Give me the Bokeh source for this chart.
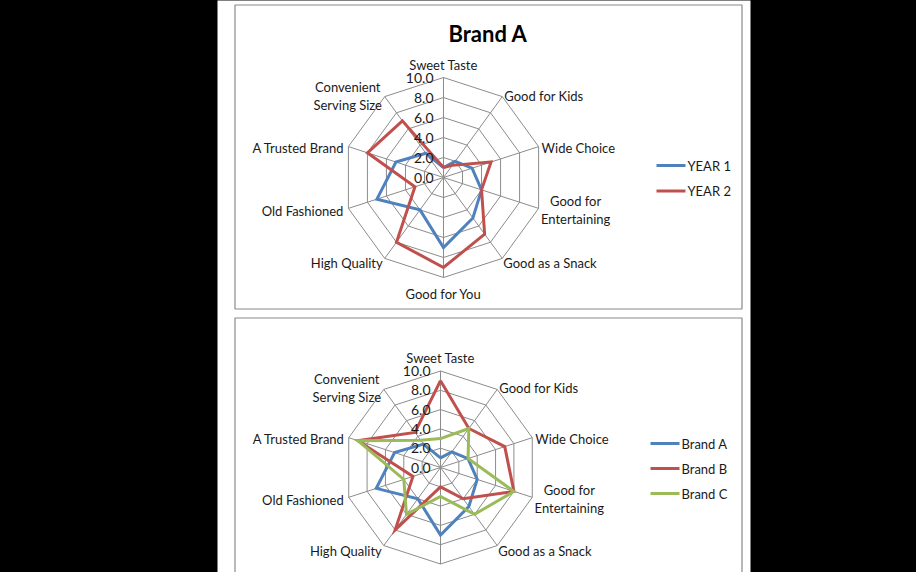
import numpy as np
from bokeh.plotting import figure
from bokeh.models import Range1d, ColumnDataSource
from bokeh.core.properties import value, field
from bokeh.embed import file_html
from bokeh.resources import INLINE

# ---------------- data ----------------
categories = ["Sweet Taste", "Good for  Kids", "Wide Choice", "Good for\nEntertaining",
              "Good as a Snack", "Good for You", "High Quality", "Old Fashioned",
              "A Trusted Brand", "Convenient\nServing Size"]
tick_values = [0, 2, 4, 6, 8, 10]
tick_labels = ["0.0", "2.0", "4.0", "6.0", "8.0", "10.0"]

top_title = "Brand A"
top_names = ["YEAR 1", "YEAR 2"]
year1 = [1.0, 2.0, 3.0, 4.0, 5.0, 7.0, 4.0, 7.0, 5.0, 3.0]
year2 = [1.0, 1.5, 5.0, 4.0, 7.0, 9.0, 8.0, 3.0, 8.0, 7.0]

bottom_names = ["Brand A", "Brand B", "Brand C"]
brand_a = [1.0, 2.0, 3.0, 4.0, 5.0, 7.0, 4.0, 7.0, 5.0, 3.0]
brand_b = [9.0, 5.0, 7.0, 8.0, 4.0, 2.0, 8.0, 3.0, 9.0, 4.5]
brand_c = [3.0, 5.0, 3.0, 8.0, 6.0, 3.0, 6.0, 4.0, 9.0, 3.5]

colors = ["#4F81BD", "#C0504D", "#9BBB59"]

# ---------------- layout/styling ----------------
FONT = "Lato"
GRID = "#8C8C8C"
W, H = 916, 572
# per-category label placement: (dx, dy, align, baseline)
label_place = [
    (0, -5, "center", "bottom"),
    (2, -1, "left", "middle"),
    (3, 1, "left", "middle"),
    (37, 2, "center", "middle"),
    (1, 5, "left", "middle"),
    (0, 8, "center", "top"),
    (-2, 5, "right", "middle"),
    (-5, 3, "right", "middle"),
    (-4, 1, "right", "middle"),
    (-37, -1, "center", "middle"),
]

p = figure(width=W, height=H, x_range=Range1d(0, W), y_range=Range1d(H, 0),
           output_backend="svg", toolbar_location=None, min_border=0)
p.axis.visible = False
p.grid.visible = False
p.outline_line_color = None
p.background_fill_color = "#000000"
p.border_fill_color = "#000000"

# white sheet and chart frames
p.quad(left=[217], right=[750], top=[-5], bottom=[H + 5], fill_color="white", line_color=None)
p.quad(left=[234.5, 234.5], right=[741.5, 741.5], top=[4.5, 317.5], bottom=[308.5, H + 30],
       fill_color="white", line_color="#8A8A8A", line_width=1.2)

n = len(categories)
theta = np.arange(n) * 2 * np.pi / n


def radar(cx, cy, s, series, names, leg_x, leg_y0, leg_dy):
    # rings
    rxs, rys = [], []
    for v in tick_values[1:]:
        xs = list(cx + v * s * np.sin(theta))
        ys = list(cy - v * s * np.cos(theta))
        rxs.append(xs + xs[:1])
        rys.append(ys + ys[:1])
    p.multi_line(rxs, rys, line_color=GRID, line_width=1)
    vmax = tick_values[-1]
    ex = cx + vmax * s * np.sin(theta)
    ey = cy - vmax * s * np.cos(theta)
    p.multi_line([[cx, x] for x in ex], [[cy, y] for y in ey], line_color=GRID, line_width=1)

    # series
    for vals, col in zip(series, colors):
        v = np.array(vals + vals[:1])
        t = np.concatenate([theta, theta[:1]])
        p.line(cx + v * s * np.sin(t), cy - v * s * np.cos(t), line_color=col,
               line_width=3, line_join="miter")

    # tick labels
    p.text(x=[cx - 10] * len(tick_values), y=[cy - v * s for v in tick_values],
           text=tick_labels, text_align="right", text_baseline="middle",
           text_font=value(FONT), text_font_size="14px", text_color="#1A1A1A")

    # category labels (only those that fall inside the page)
    idx = [i for i in range(n) if ey[i] + label_place[i][1] < H - 4]
    src = ColumnDataSource(dict(
        x=[ex[i] + label_place[i][0] for i in idx],
        y=[ey[i] + label_place[i][1] for i in idx],
        text=[categories[i] for i in idx],
        align=[label_place[i][2] for i in idx],
        base=[label_place[i][3] for i in idx],
    ))
    p.text(x="x", y="y", text="text", source=src, text_align=field("align"),
           text_baseline=field("base"), text_font=value(FONT), text_font_size="13px",
           text_color="#1A1A1A", text_line_height=1.12)

    # legend
    ly = [leg_y0 + i * leg_dy for i in range(len(names))]
    p.multi_line([[leg_x, leg_x + 29] for _ in names], [[y, y] for y in ly],
                 line_color=colors[:len(names)], line_width=3)
    p.text(x=[leg_x + 31] * len(names), y=ly, text=names, text_align="left",
           text_baseline="middle", text_font=value(FONT), text_font_size="13px",
           text_color="#1A1A1A")


radar(443, 177, 10.0, [year1, year2], top_names, 656, 165, 25.5)
radar(440, 467, 9.65, [brand_a, brand_b, brand_c], bottom_names, 650, 443, 25)

p.text(x=[487.5], y=[33], text=[top_title], text_align="center", text_baseline="middle",
       text_font=value(FONT), text_font_size="22px", text_font_style="bold",
       text_color="#000000")

html = file_html(p, INLINE, title="Brand A")
html = html.replace("</head>", "<style>html,body{background:#000000;overflow:hidden;}</style></head>", 1)
open("out.html", "w").write(html)
